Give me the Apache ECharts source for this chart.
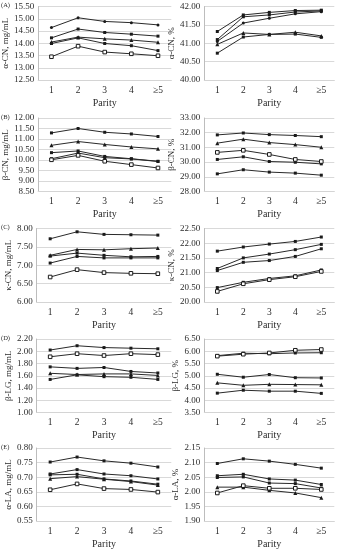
<!DOCTYPE html>
<html>
<head>
<meta charset="utf-8">
<script src="https://cdn.jsdelivr.net/npm/echarts@6/dist/echarts.min.js"></script>
<style>
html,body{margin:0;padding:0;background:#fff;}
#chart{width:339px;height:550px;}
</style>
</head>
<body>
<div id="chart"></div>
<script>
// ---- data ----
var categories = ['1', '2', '3', '4', '≥5'];
var xAxisTitle = 'Parity';
var panelLetters = ['(A)', '(B)', '(C)', '(D)', '(E)'];
var leftTitles = ['α-CN, mg/mL', 'β-CN, mg/mL', 'κ-CN, mg/mL', 'β-LG, mg/mL', 'α-LA, mg/mL'];
var rightTitles = ['α-CN, %', 'β-CN, %', 'κ-CN, %', 'β-LG, %', 'α-LA, %'];

// y-axis ranges [min, max, interval]
var leftRanges = [[12.5, 15.5, 0.5], [8.5, 12, 0.5], [6, 8, 0.5], [1.0, 2.2, 0.2], [0.55, 0.80, 0.05]];
var rightRanges = [[40, 42, 0.5], [28, 33, 1], [20, 22.5, 0.5], [3.5, 6.5, 0.5], [1.90, 2.15, 0.05]];

// values, 5 series per panel
var alphaCnMg = [
  [14.64, 15.04, 14.89, 14.84, 14.75],
  [14.22, 14.58, 14.44, 14.37, 14.29],
  [14.05, 14.25, 14.18, 14.13, 14.04],
  [13.99, 14.22, 13.99, 13.90, 13.70],
  [13.45, 13.88, 13.64, 13.57, 13.49]
];
var alphaCnPct = [
  [41.32, 41.77, 41.84, 41.89, 41.90],
  [41.10, 41.72, 41.77, 41.85, 41.88],
  [41.05, 41.55, 41.68, 41.80, 41.86],
  [40.97, 41.28, 41.24, 41.30, 41.20],
  [40.73, 41.17, 41.24, 41.25, 41.16]
];
var betaCnMg = [
  [11.29, 11.50, 11.32, 11.24, 11.12],
  [10.70, 10.88, 10.74, 10.62, 10.53],
  [10.35, 10.43, 10.17, 10.06, 9.94],
  [10.06, 10.33, 10.11, 10.05, 9.93],
  [10.01, 10.22, 9.94, 9.78, 9.62]
];
var betaCnPct = [
  [31.85, 31.98, 31.87, 31.81, 31.73],
  [31.29, 31.56, 31.33, 31.19, 31.01],
  [30.66, 30.80, 30.52, 30.18, 30.04],
  [30.18, 30.36, 30.04, 29.99, 29.88],
  [29.20, 29.48, 29.32, 29.25, 29.11]
];
var kappaCnMg = [
  [7.72, 7.91, 7.84, 7.83, 7.82],
  [7.27, 7.43, 7.42, 7.45, 7.47],
  [7.25, 7.33, 7.27, 7.23, 7.24],
  [7.06, 7.24, 7.20, 7.20, 7.20],
  [6.68, 6.88, 6.80, 6.78, 6.77]
];
var kappaCnPct = [
  [21.73, 21.87, 21.97, 22.06, 22.21],
  [21.14, 21.50, 21.63, 21.78, 21.96],
  [21.07, 21.35, 21.41, 21.55, 21.81],
  [20.49, 20.67, 20.80, 20.89, 21.09],
  [20.36, 20.62, 20.76, 20.86, 21.04]
];
var betaLgMg = [
  [2.02, 2.09, 2.06, 2.05, 2.04],
  [1.91, 1.96, 1.93, 1.96, 1.945],
  [1.745, 1.72, 1.735, 1.67, 1.645],
  [1.64, 1.62, 1.63, 1.63, 1.605],
  [1.54, 1.615, 1.585, 1.575, 1.54]
];
var betaLgPct = [
  [5.80, 5.88, 5.93, 6.04, 6.07],
  [5.82, 5.92, 5.90, 5.93, 5.94],
  [5.06, 4.94, 5.05, 4.92, 4.91],
  [4.71, 4.61, 4.65, 4.64, 4.63],
  [4.29, 4.41, 4.37, 4.37, 4.28]
];
var alphaLaMg = [
  [0.752, 0.769, 0.756, 0.748, 0.735],
  [0.711, 0.726, 0.711, 0.705, 0.694],
  [0.708, 0.710, 0.694, 0.687, 0.676],
  [0.695, 0.702, 0.693, 0.685, 0.673],
  [0.657, 0.677, 0.661, 0.658, 0.649]
];
var alphaLaPct = [
  [2.097, 2.113, 2.105, 2.094, 2.081],
  [2.055, 2.060, 2.044, 2.040, 2.025],
  [2.049, 2.051, 2.030, 2.028, 2.013],
  [2.016, 2.016, 2.005, 1.996, 1.980],
  [1.996, 2.021, 2.012, 2.012, 2.008]
];

var leftData = [alphaCnMg, betaCnMg, kappaCnMg, betaLgMg, alphaLaMg];
var rightData = [alphaCnPct, betaCnPct, kappaCnPct, betaLgPct, alphaLaPct];

// marker kinds per panel
var leftMarkers = [
  ['dot', 'sq', 'tri', 'sq', 'open'],
  ['sq', 'tri', 'sq', 'sq', 'open'],
  ['sq', 'tri', 'sq', 'sq', 'open'],
  ['sq', 'open', 'sq', 'tri', 'sq'],
  ['sq', 'sq', 'sq', 'tri', 'open']
];
var rightMarkers = [
  ['sq', 'sq', 'dot', 'tri', 'sq'],
  ['sq', 'tri', 'open', 'sq', 'sq'],
  ['sq', 'sq', 'sq', 'sq', 'open'],
  ['open', 'sq', 'sq', 'tri', 'sq'],
  ['sq', 'sq', 'sq', 'tri', 'open']
];

// ---- layout ----
var FONT = 'Liberation Serif';
var rowTops = [6.5, 118, 228.5, 339, 448];
var gridH = 73.5;
var colLeft = [36.7, 204.3];
var colWidth = [134.6, 130];
var INK = '#1a1a1a';
var TXT = '#2b2b2b';

var grids = [], xAxes = [], yAxes = [], series = [], titles = [];

function markerStyle(kind) {
  if (kind === 'dot') return { symbol: 'circle', symbolSize: 3, itemStyle: { color: INK } };
  if (kind === 'tri') return { symbol: 'triangle', symbolSize: 4, itemStyle: { color: INK } };
  if (kind === 'open') return { symbol: 'rect', symbolSize: 3.6, itemStyle: { color: '#fff', borderColor: INK, borderWidth: 1 } };
  return { symbol: 'rect', symbolSize: 3, itemStyle: { color: INK } };
}

function addPanel(row, col, data, range, title, markers) {
  var idx = grids.length;
  grids.push({ left: colLeft[col], top: rowTops[row], width: colWidth[col], height: gridH, containLabel: false });
  xAxes.push({
    gridIndex: idx, type: 'category', data: categories, boundaryGap: true,
    name: xAxisTitle, nameLocation: 'middle', nameGap: 18,
    nameTextStyle: { fontFamily: FONT, fontSize: 10, color: TXT },
    axisLine: { show: true, lineStyle: { color: '#d4d4d4', width: 1 } },
    axisTick: { show: false },
    axisLabel: { fontFamily: FONT, fontSize: 9.5, color: TXT, margin: 5 }
  });
  yAxes.push({
    gridIndex: idx, type: 'value', min: range[0], max: range[1], interval: range[2],
    name: title, nameLocation: 'middle', nameGap: 24, nameRotate: 90,
    nameTextStyle: { fontFamily: FONT, fontSize: 9, color: TXT },
    axisLine: { show: true, lineStyle: { color: '#bdbdbd', width: 1 } },
    axisTick: { show: false },
    splitLine: { show: true, lineStyle: { color: '#d9d9d9', width: 1 } },
    axisLabel: {
      fontFamily: FONT, fontSize: 9, color: TXT, margin: 4,
      formatter: function (v) { return v.toFixed(2); }
    }
  });
  for (var s = 0; s < data.length; s++) {
    var m = markerStyle(markers[s]);
    series.push({
      type: 'line', xAxisIndex: idx, yAxisIndex: idx, data: data[s],
      symbol: m.symbol, symbolSize: m.symbolSize, itemStyle: m.itemStyle,
      showAllSymbol: true,
      lineStyle: { color: '#2a2a2a', width: 1 },
      animation: false, z: 3 + (markers[s] === 'open' ? 1 : 0)
    });
  }
}

for (var r = 0; r < 5; r++) {
  addPanel(r, 0, leftData[r], leftRanges[r], leftTitles[r], leftMarkers[r]);
  addPanel(r, 1, rightData[r], rightRanges[r], rightTitles[r], rightMarkers[r]);
  titles.push({
    text: panelLetters[r], left: 1, top: rowTops[r] - 4.5, padding: 0,
    textStyle: { fontFamily: FONT, fontSize: 6.5, fontWeight: 'normal', color: TXT }
  });
}

var chart = echarts.init(document.getElementById('chart'), null, { renderer: 'canvas' });
chart.setOption({
  backgroundColor: '#fff',
  animation: false,
  title: titles,
  grid: grids,
  xAxis: xAxes,
  yAxis: yAxes,
  series: series
});
</script>
</body>
</html>
